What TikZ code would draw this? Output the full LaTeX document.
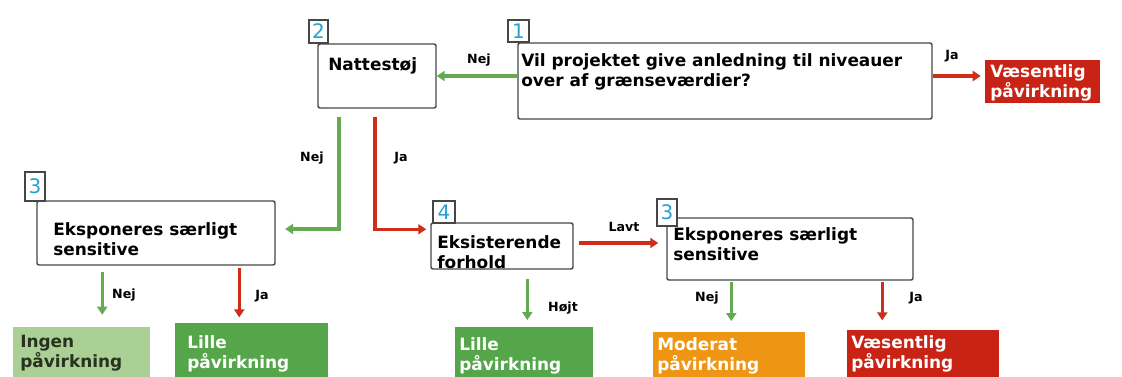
\documentclass[tikz,border=0pt]{standalone}
\usepackage{fontspec}
\setmainfont{DejaVu Sans}
\usetikzlibrary{arrows.meta,fit,calc}
\definecolor{gline}{RGB}{100,170,80}
\definecolor{rline}{RGB}{205,45,25}
\definecolor{redbox}{RGB}{200,35,20}
\definecolor{orbox}{RGB}{238,150,20}
\definecolor{lgbox}{RGB}{170,208,150}
\definecolor{dgbox}{RGB}{85,165,75}
\definecolor{tagcol}{RGB}{40,160,210}
\definecolor{edge}{RGB}{70,70,70}
\definecolor{darktxt}{RGB}{40,50,30}
\begin{document}
\begin{tikzpicture}[x=0.75pt,y=-0.75pt,
 qbox/.style={draw=edge,line width=1.1pt,inner sep=0pt,rounded corners=1.5pt},
 tagbox/.style={draw=edge,line width=1pt,inner sep=0pt,fill=white,text=tagcol,font=\fontsize{15}{15}\selectfont},
 outbox/.style={inner sep=0pt},
 btxt/.style={inner sep=0pt,anchor=north west,align=left,font=\fontsize{12.7}{15}\selectfont\bfseries},
 lbl/.style={inner sep=0pt,font=\fontsize{9.5}{11}\selectfont\bfseries},
 garrow/.style={draw=gline,line width=2.6pt,-{Triangle[length=6pt,width=7.5pt]}},
 rarrow/.style={draw=rline,line width=2.6pt,-{Triangle[length=6pt,width=7.5pt]}},
]
\useasboundingbox (0,0) rectangle (1122,376);

% question boxes
\node[qbox,fit={(518,43) (932,119)}] (b1) {};
\node[qbox,fit={(318,44) (436,108)}] (b2) {};
\node[qbox,fit={(37,201) (275,265)}] (b3L) {};
\node[qbox,fit={(431,223) (573,269)}] (b4) {};
\node[qbox,fit={(667,218) (913,280)}] (b3R) {};

\node[btxt] (t1) at (521,53) {Vil projektet give anledning til niveauer\\over af grænseværdier?};
\node[btxt] (t2) at (328,57) {Nattestøj};
\node[btxt] (t3L) at (53,222) {Eksponeres særligt\\sensitive};
\node[btxt] (t4) at (437,235) {Eksisterende\\forhold};
\node[btxt] (t3R) at (673,227) {Eksponeres særligt\\sensitive};

% tags
\node[tagbox,minimum width=15.75pt,minimum height=16.5pt] (g1) at (518.5,31) {1};
\node[tagbox,minimum width=14.25pt,minimum height=17.25pt] (g2) at (318.5,31.5) {2};
\node[tagbox,minimum width=15pt,minimum height=21.75pt] (g3L) at (35,186.5) {3};
\node[tagbox,minimum width=16.5pt,minimum height=16.5pt] (g4) at (444,212) {4};
\node[tagbox,minimum width=15pt,minimum height=20.25pt] (g3R) at (667,212.5) {3};

% outcome boxes
\node[outbox,fill=redbox,fit={(985,60) (1100,103)}] (o1) {};
\node[outbox,fill=lgbox,fit={(13,327) (150,380)}] (o2) {};
\node[outbox,fill=dgbox,fit={(175,323) (328,380)}] (o3) {};
\node[outbox,fill=dgbox,fit={(455,327) (593,380)}] (o4) {};
\node[outbox,fill=orbox,fit={(653,332) (805,380)}] (o5) {};
\node[outbox,fill=redbox,fit={(847,330) (999,380)}] (o6) {};

\node[btxt,text=white] (u1) at (990,64) {Væsentlig\\påvirkning};
\node[btxt,text=darktxt] (u2) at (20,335) {Ingen\\påvirkning};
\node[btxt,text=white] (u3) at (187,335) {Lille\\påvirkning};
\node[btxt,text=white] (u4) at (459,337) {Lille\\påvirkning};
\node[btxt,text=white] (u5) at (657,337) {Moderat\\påvirkning};
\node[btxt,text=white] (u6) at (851,335) {Væsentlig\\påvirkning};

% connectors
\draw[garrow] (b1.west |- b2.east) -- (b2.east);
\coordinate (c1r) at ($(b1.east)+(0,-5)$);
\draw[rarrow,shorten >=3pt] (c1r) -- (c1r -| o1.west);

\coordinate (c2g) at ($(b2.south)+(-38,8)$);
\draw[garrow,shorten >=7pt] (c2g) |- ($(b3L.east)+(0,-4)$);
\coordinate (c2r) at ($(b2.south)+(-2,8)$);
\coordinate (c4in) at ($(b4.north west)+(0,7)$);
\draw[rarrow,shorten >=3pt] (c2r) |- (c4in);

\coordinate (c4r) at ($(b4.east)+(0,-3)$);
\draw[rarrow,shorten <=4pt,shorten >=6pt] (c4r) -- (c4r -| b3R.west);
\coordinate (c4g) at ($(b4.south west)+(97,0)$);
\draw[garrow,shorten <=7pt,shorten >=5pt] (c4g) -- (c4g |- o4.north);

\coordinate (c3g) at ($(b3L.south west)+(66,0)$);
\draw[garrow,shorten <=5pt,shorten >=9pt] (c3g) -- (c3g |- o2.north);
\coordinate (c3r) at ($(b3L.south west)+(203,0)$);
\draw[rarrow,shorten <=2pt,shorten >=4pt] (c3r) -- (c3r |- o3.north);

\coordinate (c5g) at ($(b3R.south west)+(65,0)$);
\draw[garrow,shorten <=1pt,shorten >=8pt] (c5g) -- (c5g |- o5.north);
\coordinate (c5r) at ($(b3R.south west)+(216,0)$);
\draw[rarrow,shorten <=1pt,shorten >=7pt] (c5r) -- (c5r |- o6.north);

% labels
\node[lbl] (l1) at (479,60) {Nej};
\node[lbl] (l2) at (952,56) {Ja};
\node[lbl] (l3) at (312,158) {Nej};
\node[lbl] (l4) at (401,158) {Ja};
\node[lbl] (l5) at (124,295) {Nej};
\node[lbl] (l6) at (262,296) {Ja};
\node[lbl] (l7) at (624,227) {Lavt};
\node[lbl] (l8) at (563,308) {Højt};
\node[lbl] (l9) at (707,298) {Nej};
\node[lbl] (l10) at (916,298) {Ja};
\end{tikzpicture}
\end{document}
